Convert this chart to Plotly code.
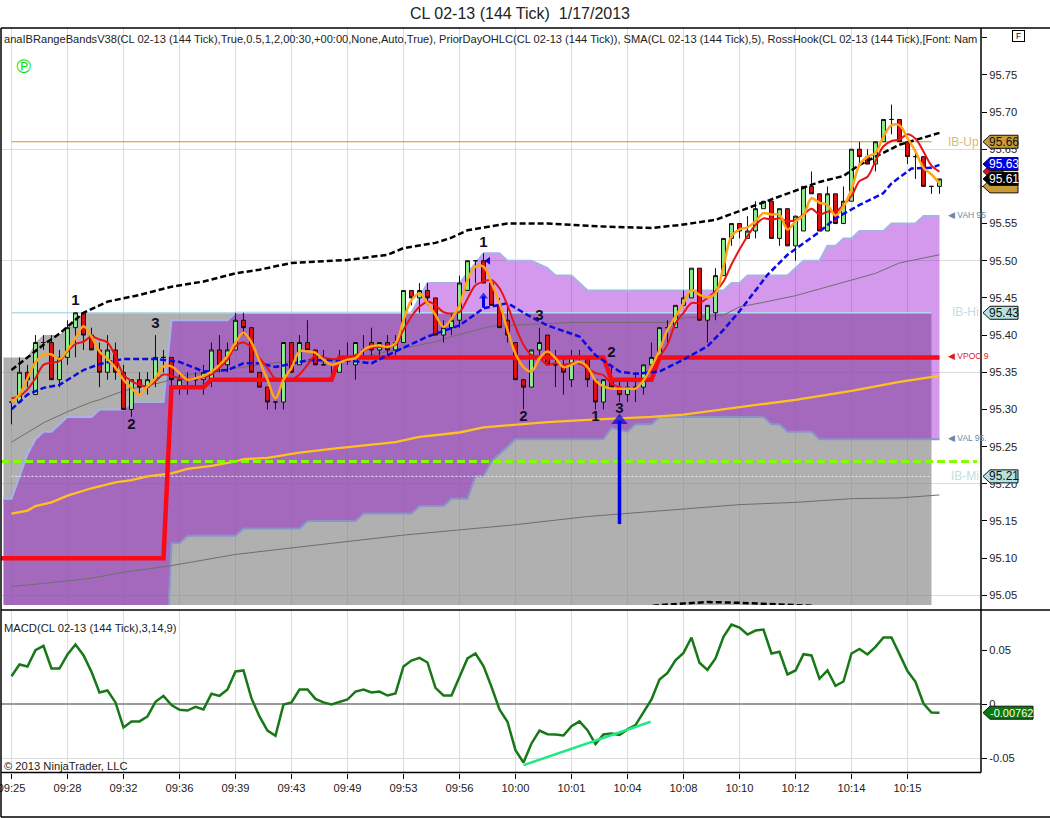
import plotly.graph_objects as go
from plotly.subplots import make_subplots

FONT = "Liberation Sans"

# tick axis
tick_pos = [0, 7, 14, 21, 28, 35, 42, 49, 56, 63, 70, 77, 84, 91, 98, 105, 112]
tick_labels = ["09:25", "09:28", "09:32", "09:36", "09:39", "09:43", "09:49", "09:53", "09:56",
               "10:00", "10:01", "10:04", "10:08", "10:10", "10:12", "10:14", "10:15"]

# candles, one value per bar
bar_open = [95.31, 95.31, 95.35, 95.32, 95.39, 95.39, 95.34, 95.37, 95.41, 95.43,
            95.40, 95.38, 95.35, 95.38, 95.35, 95.30, 95.34, 95.33, 95.34, 95.37,
            95.37, 95.33, 95.34, 95.34, 95.34, 95.34, 95.38, 95.36, 95.38, 95.42,
            95.41, 95.35, 95.33, 95.31, 95.31, 95.39, 95.36, 95.39, 95.38, 95.36,
            95.36, 95.35, 95.37, 95.36, 95.38, 95.39, 95.38, 95.39, 95.38, 95.39,
            95.46, 95.45, 95.46, 95.45, 95.40, 95.41, 95.42, 95.46, 95.50, 95.50,
            95.47, 95.44, 95.42, 95.39, 95.34, 95.33, 95.38, 95.40, 95.36, 95.36,
            95.34, 95.37, 95.37, 95.34, 95.31, 95.34, 95.33, 95.32, 95.33, 95.33,
            95.36, 95.37, 95.41, 95.41, 95.44, 95.45, 95.49, 95.42, 95.43, 95.48,
            95.53, 95.55, 95.53, 95.54, 95.57, 95.58, 95.53, 95.57, 95.52, 95.54,
            95.60, 95.59, 95.54, 95.59, 95.55, 95.58, 95.65, 95.64, 95.63, 95.66,
            95.69, 95.69, 95.66, 95.64, 95.64, 95.60, 95.60]
bar_high = [95.31, 95.37, 95.36, 95.40, 95.40, 95.40, 95.38, 95.42, 95.43, 95.43,
            95.41, 95.39, 95.40, 95.39, 95.36, 95.34, 95.35, 95.35, 95.40, 95.38,
            95.37, 95.35, 95.35, 95.35, 95.36, 95.39, 95.40, 95.39, 95.43, 95.43,
            95.41, 95.35, 95.33, 95.31, 95.39, 95.39, 95.40, 95.42, 95.38, 95.38,
            95.36, 95.38, 95.39, 95.39, 95.40, 95.41, 95.39, 95.40, 95.40, 95.46,
            95.46, 95.47, 95.47, 95.45, 95.42, 95.43, 95.48, 95.50, 95.50, 95.51,
            95.47, 95.45, 95.44, 95.39, 95.34, 95.38, 95.41, 95.40, 95.38, 95.37,
            95.38, 95.38, 95.37, 95.34, 95.34, 95.36, 95.34, 95.34, 95.35, 95.36,
            95.39, 95.41, 95.42, 95.44, 95.46, 95.49, 95.49, 95.44, 95.49, 95.53,
            95.55, 95.55, 95.56, 95.58, 95.58, 95.58, 95.57, 95.57, 95.56, 95.60,
            95.62, 95.59, 95.60, 95.59, 95.60, 95.65, 95.66, 95.65, 95.66, 95.69,
            95.71, 95.69, 95.66, 95.65, 95.64, 95.60, 95.61]
bar_low = [95.28, 95.31, 95.33, 95.32, 95.38, 95.34, 95.33, 95.36, 95.37, 95.38,
           95.38, 95.33, 95.34, 95.34, 95.30, 95.29, 95.32, 95.32, 95.33, 95.35,
           95.33, 95.32, 95.32, 95.33, 95.32, 95.33, 95.35, 95.35, 95.38, 95.40,
           95.35, 95.33, 95.30, 95.30, 95.30, 95.35, 95.36, 95.38, 95.36, 95.36,
           95.34, 95.35, 95.36, 95.34, 95.37, 95.37, 95.37, 95.37, 95.37, 95.39,
           95.44, 95.43, 95.44, 95.40, 95.39, 95.40, 95.41, 95.46, 95.47, 95.47,
           95.44, 95.41, 95.39, 95.34, 95.30, 95.33, 95.37, 95.36, 95.33, 95.32,
           95.33, 95.36, 95.33, 95.30, 95.30, 95.33, 95.31, 95.31, 95.31, 95.32,
           95.36, 95.37, 95.39, 95.41, 95.44, 95.45, 95.42, 95.39, 95.42, 95.48,
           95.52, 95.53, 95.53, 95.53, 95.57, 95.53, 95.52, 95.52, 95.50, 95.54,
           95.59, 95.54, 95.54, 95.55, 95.55, 95.58, 95.63, 95.63, 95.62, 95.66,
           95.67, 95.66, 95.63, 95.61, 95.60, 95.59, 95.59]
bar_close = [95.31, 95.35, 95.34, 95.39, 95.39, 95.34, 95.37, 95.41, 95.43, 95.40,
             95.38, 95.35, 95.38, 95.35, 95.30, 95.34, 95.33, 95.34, 95.37, 95.37,
             95.34, 95.34, 95.34, 95.34, 95.35, 95.38, 95.36, 95.38, 95.42, 95.41,
             95.35, 95.33, 95.31, 95.31, 95.39, 95.35, 95.39, 95.38, 95.36, 95.36,
             95.36, 95.37, 95.37, 95.39, 95.38, 95.38, 95.39, 95.38, 95.39, 95.46,
             95.45, 95.46, 95.45, 95.40, 95.41, 95.42, 95.47, 95.50, 95.50, 95.47,
             95.44, 95.41, 95.40, 95.34, 95.33, 95.38, 95.39, 95.36, 95.36, 95.35,
             95.37, 95.37, 95.34, 95.31, 95.34, 95.33, 95.32, 95.33, 95.33, 95.36,
             95.37, 95.41, 95.41, 95.44, 95.45, 95.49, 95.42, 95.44, 95.48, 95.53,
             95.55, 95.54, 95.54, 95.57, 95.58, 95.53, 95.57, 95.52, 95.56, 95.60,
             95.59, 95.54, 95.59, 95.55, 95.58, 95.65, 95.64, 95.63, 95.66, 95.69,
             95.69, 95.66, 95.64, 95.64, 95.60, 95.60, 95.61]

# RossHook (red) and SMA 5 (orange)
hook_vals = [95.315, 95.318, 95.327, 95.342, 95.360, 95.363, 95.365, 95.378, 95.388, 95.391,
             95.398, 95.394, 95.390, 95.371, 95.347, 95.338, 95.333, 95.331, 95.338, 95.347,
             95.345, 95.342, 95.340, 95.342, 95.343, 95.347, 95.356, 95.367, 95.385, 95.390,
             95.383, 95.369, 95.356, 95.341, 95.340, 95.340, 95.347, 95.360, 95.373, 95.370,
             95.368, 95.368, 95.367, 95.373, 95.379, 95.383, 95.384, 95.384, 95.387, 95.407,
             95.425, 95.438, 95.445, 95.440, 95.431, 95.429, 95.431, 95.449, 95.467, 95.472,
             95.474, 95.463, 95.440, 95.411, 95.387, 95.373, 95.369, 95.360, 95.362, 95.360,
             95.362, 95.362, 95.355, 95.349, 95.346, 95.335, 95.330, 95.328, 95.328, 95.339,
             95.353, 95.371, 95.387, 95.416, 95.430, 95.443, 95.443, 95.450, 95.459, 95.472,
             95.495, 95.515, 95.533, 95.548, 95.557, 95.555, 95.557, 95.553, 95.555, 95.562,
             95.570, 95.562, 95.566, 95.566, 95.575, 95.587, 95.607, 95.613, 95.634, 95.654,
             95.661, 95.663, 95.670, 95.664, 95.647, 95.628, 95.620]
sma_vals = [95.309, 95.320, 95.342, 95.363, 95.374, 95.374, 95.368, 95.380, 95.396, 95.412,
            95.398, 95.378, 95.368, 95.356, 95.340, 95.329, 95.320, 95.331, 95.342, 95.358,
            95.358, 95.349, 95.340, 95.342, 95.345, 95.351, 95.360, 95.372, 95.390, 95.403,
            95.390, 95.365, 95.340, 95.315, 95.340, 95.356, 95.378, 95.378, 95.376, 95.367,
            95.360, 95.363, 95.367, 95.369, 95.380, 95.385, 95.386, 95.384, 95.389, 95.420,
            95.447, 95.456, 95.443, 95.427, 95.411, 95.422, 95.440, 95.474, 95.492, 95.492,
            95.470, 95.443, 95.407, 95.375, 95.357, 95.351, 95.369, 95.378, 95.369, 95.357,
            95.360, 95.364, 95.357, 95.339, 95.331, 95.328, 95.328, 95.328, 95.328, 95.339,
            95.357, 95.380, 95.407, 95.425, 95.443, 95.461, 95.454, 95.451, 95.456, 95.492,
            95.533, 95.542, 95.545, 95.553, 95.564, 95.562, 95.562, 95.542, 95.553, 95.561,
            95.584, 95.578, 95.575, 95.561, 95.573, 95.596, 95.629, 95.640, 95.645, 95.667,
            95.682, 95.682, 95.665, 95.647, 95.625, 95.616, 95.604]

# blue dashed mid band
blue_x = [0, 2, 4, 6, 9, 11, 14, 18, 21, 24, 27, 29, 31, 33, 37, 42, 45, 48, 52, 56, 59, 62,
          64.5, 67, 71, 73, 76, 78, 81, 84, 87, 89, 91, 94.5, 97, 101, 103, 106, 109, 110, 112.5, 115, 116]
blue_vals = [95.300, 95.320, 95.329, 95.333, 95.353, 95.361, 95.368, 95.368, 95.364, 95.351, 95.353,
             95.362, 95.362, 95.357, 95.366, 95.366, 95.362, 95.378, 95.398, 95.413, 95.436, 95.443,
             95.427, 95.413, 95.398, 95.373, 95.351, 95.348, 95.351, 95.367, 95.385, 95.407, 95.432,
             95.481, 95.508, 95.539, 95.557, 95.575, 95.591, 95.604, 95.624, 95.625, 95.629]

# black dashed upper band, and the lower band where it peeks in at the bottom
upper_x = [0, 4, 6, 9, 12, 16, 20, 24, 28, 31, 35, 42, 47, 49, 53, 55, 57, 60, 62, 67, 74, 80, 83.5,
           88, 92, 96, 101, 104, 106, 111, 116]
upper_vals = [95.353, 95.387, 95.402, 95.430, 95.445, 95.454, 95.465, 95.472, 95.483, 95.488, 95.497,
              95.501, 95.508, 95.517, 95.524, 95.531, 95.541, 95.546, 95.550, 95.550, 95.546, 95.544,
              95.548, 95.555, 95.571, 95.587, 95.606, 95.614, 95.629, 95.656, 95.672]
lower_x = [78, 80, 84, 87, 91, 95, 100, 102]
lower_vals = [95.030, 95.036, 95.039, 95.041, 95.040, 95.038, 95.036, 95.030]

# thin gray lines
ma_high_x = [0, 4, 7, 10, 11, 14, 19, 21, 33, 42, 53, 55, 60, 70, 82, 84, 89, 91, 94, 98, 101, 104, 106, 108, 111, 114, 116]
ma_high_vals = [95.256, 95.282, 95.297, 95.310, 95.313, 95.325, 95.337, 95.345, 95.363, 95.367, 95.391, 95.398,
                95.412, 95.417, 95.417, 95.423, 95.427, 95.438, 95.444, 95.453, 95.462, 95.471, 95.476, 95.483,
                95.497, 95.504, 95.508]
ma_low_x = [0, 4, 10, 14, 20, 24, 28, 36, 42, 49, 56, 63, 72, 80, 84, 91, 98, 105, 111, 116]
ma_low_vals = [95.062, 95.066, 95.073, 95.081, 95.090, 95.098, 95.105, 95.115, 95.122, 95.131, 95.138, 95.145,
               95.156, 95.163, 95.166, 95.172, 95.175, 95.180, 95.181, 95.185]

# gold slow average
slow_x = [0, 2, 3, 5, 7, 10, 13, 15, 17, 20, 22, 25, 28, 29, 32, 36, 40, 44, 48, 51, 56, 59, 63, 67, 72, 76, 80,
          84, 92, 98, 105, 111, 116]
slow_vals = [95.160, 95.164, 95.170, 95.175, 95.184, 95.194, 95.202, 95.205, 95.210, 95.214, 95.220, 95.224, 95.230,
             95.233, 95.235, 95.242, 95.247, 95.252, 95.256, 95.263, 95.269, 95.276, 95.280, 95.283, 95.286, 95.288,
             95.290, 95.293, 95.304, 95.313, 95.325, 95.337, 95.345]

# VPOC step line
vpoc_x = [-1.31, 19, 20, 24, 25, 40, 41, 74, 75, 80, 81, 116]
vpoc_vals = [95.10, 95.10, 95.33, 95.33, 95.34, 95.34, 95.37, 95.37, 95.34, 95.34, 95.37, 95.37]

# initial balance block
ib_x = [-1, 2, 3, 4, 5, 6, 7, 8, 9, 115]
ib_top = [95.37, 95.37, 95.39, 95.40, 95.40, 95.40, 95.41, 95.42, 95.43, 95.43]
ib_high = 95.43
ib_mid = 95.21
ib_up = 95.66
prior_level = 95.23

# value area
vah_x = [-1, 0, 1, 2, 3, 4, 5, 7, 10, 11, 14, 15, 19, 20, 27, 28, 50, 51, 52, 56, 59, 61, 62, 65, 67, 68, 70, 72,
         89, 90, 91, 92, 97, 99, 101, 102, 103, 104, 105, 106, 109, 110, 113, 114, 116]
vah_vals = [95.18, 95.18, 95.21, 95.24, 95.26, 95.27, 95.27, 95.29, 95.29, 95.30, 95.30, 95.31, 95.31, 95.42, 95.42,
            95.43, 95.43, 95.45, 95.47, 95.47, 95.51, 95.51, 95.50, 95.50, 95.49, 95.48, 95.48, 95.46,
            95.46, 95.47, 95.47, 95.48, 95.48, 95.50, 95.50, 95.52, 95.52, 95.53, 95.53, 95.54, 95.54, 95.55,
            95.55, 95.56, 95.56]
val_x = [-1, 19.5, 20, 21, 22, 28, 29, 36, 37, 43, 44, 50, 51, 54, 55, 57, 58, 59, 60, 63, 74, 75, 77, 78, 80, 81, 94,
         95, 96, 97, 100, 101, 116]
val_vals = [95.00, 95.00, 95.12, 95.12, 95.13, 95.13, 95.14, 95.14, 95.15, 95.15, 95.16, 95.16, 95.17, 95.17, 95.18,
            95.18, 95.21, 95.21, 95.23, 95.26, 95.26, 95.275, 95.27, 95.28, 95.28, 95.29, 95.29, 95.28, 95.28, 95.27,
            95.27, 95.26, 95.26]

# swing counts
swing_x = [8, 15, 18, 59, 64, 66, 73, 75, 76]
swing_y = [95.445, 95.279, 95.414, 95.524, 95.289, 95.425, 95.290, 95.375, 95.300]
swing_text = ["1", "2", "3", "1", "2", "3", "1", "2", "3"]

# arrows
long_arrow_x = [76, 76]
long_arrow_y = [95.146, 95.285]
short_arrow_x = [59, 59]
short_arrow_y = [95.437, 95.452]

# MACD panel
macd_vals = [0.0262, 0.0370, 0.0352, 0.0503, 0.0543, 0.0333, 0.0333, 0.0463, 0.0556, 0.0457,
             0.0302, 0.0111, 0.0130, 0.0019, -0.0213, -0.0157, -0.0157, -0.0111, 0.0025, 0.0080,
             -0.0006, -0.0049, -0.0056, -0.0022, -0.0046, 0.0099, 0.0080, 0.0139, 0.0306, 0.0315,
             0.0056, -0.0111, -0.0241, -0.0290, 0.0000, 0.0019, 0.0139, 0.0139, 0.0052, 0.0019,
             0.0000, 0.0025, 0.0046, 0.0120, 0.0139, 0.0111, 0.0120, 0.0083, 0.0102, 0.0352,
             0.0407, 0.0432, 0.0389, 0.0154, 0.0083, 0.0083, 0.0250, 0.0426, 0.0472, 0.0355,
             0.0164, -0.0046, -0.0160, -0.0423, -0.0537, -0.0361, -0.0241, -0.0275, -0.0278, -0.0287,
             -0.0201, -0.0157, -0.0238, -0.0367, -0.0278, -0.0268, -0.0281, -0.0231, -0.0191, -0.0068,
             0.0046, 0.0231, 0.0293, 0.0410, 0.0478, 0.0620, 0.0386, 0.0321, 0.0426, 0.0626,
             0.0741, 0.0713, 0.0648, 0.0685, 0.0694, 0.0472, 0.0488, 0.0278, 0.0315, 0.0466,
             0.0454, 0.0238, 0.0315, 0.0173, 0.0213, 0.0472, 0.0515, 0.0463, 0.0534, 0.0620,
             0.0620, 0.0466, 0.0309, 0.0210, 0.0009, -0.0074, -0.0076]
macd_trend_x = [64, 79.9]
macd_trend_y = [-0.0562, -0.0160]

bars = list(range(len(bar_close)))
W, H = 1050, 818


def px_x(v):
    return v / W


def px_y(v):
    return 1 - v / H


fig = make_subplots(rows=2, cols=1, shared_xaxes=True)

# Filled areas live on the base axis so the candles can sit above them
fig.add_trace(go.Scatter(x=ib_x, y=ib_top, fill="tozeroy", mode="none",
                         fillcolor="rgba(128,128,128,0.62)"), row=1, col=1)
fig.add_trace(go.Scatter(x=vah_x + val_x[::-1], y=vah_vals + val_vals[::-1], fill="toself", mode="none",
                         fillcolor="rgba(148,0,211,0.40)"), row=1, col=1)
fig.add_trace(go.Scatter(x=vah_x, y=vah_vals, mode="lines", line=dict(color="#a4b4e6", width=2)), row=1, col=1)
fig.add_trace(go.Scatter(x=val_x, y=val_vals, mode="lines", line=dict(color="#8a94c8", width=2)), row=1, col=1)
fig.add_trace(go.Scatter(x=[0, 115], y=[ib_high, ib_high], mode="lines",
                         line=dict(color="#b4dcec", width=1.5)), row=1, col=1)
fig.add_trace(go.Scatter(x=[0, 115], y=[ib_mid, ib_mid], mode="lines",
                         line=dict(color="#e8eef2", width=1, dash="2px,2px")), row=1, col=1)
fig.add_trace(go.Scatter(x=[0, 115], y=[ib_up, ib_up], mode="lines",
                         line=dict(color="#c89820", width=1.2)), row=1, col=1)
fig.add_trace(go.Scatter(x=ma_high_x, y=ma_high_vals, mode="lines", line=dict(color="#6e6e6e", width=1)), row=1, col=1)
fig.add_trace(go.Scatter(x=ma_low_x, y=ma_low_vals, mode="lines", line=dict(color="#6e6e6e", width=1)), row=1, col=1)

# Everything on top goes on an overlay axis
over = dict(xaxis="x", yaxis="y3")
fig.add_trace(go.Candlestick(x=bars, open=bar_open, high=bar_high, low=bar_low, close=bar_close,
                             increasing=dict(fillcolor="#90ee90", line=dict(color="#101010", width=1)),
                             decreasing=dict(fillcolor="#e01010", line=dict(color="#101010", width=1)),
                             **over))
fig.add_trace(go.Scatter(x=slow_x, y=slow_vals, mode="lines", line=dict(color="#ffc020", width=2.3), **over))
fig.add_trace(go.Scatter(x=[-1.31, 120.7], y=[prior_level, prior_level], mode="lines",
                         line=dict(color="#7fff00", width=3, dash="8px,4px"), **over))
fig.add_trace(go.Scatter(x=vpoc_x, y=vpoc_vals, mode="lines", line=dict(color="#fa0a14", width=4.5), **over))
fig.add_trace(go.Scatter(x=upper_x, y=upper_vals, mode="lines",
                         line=dict(color="#000000", width=2.5, dash="6px,3px"), **over))
fig.add_trace(go.Scatter(x=lower_x, y=lower_vals, mode="lines",
                         line=dict(color="#000000", width=2.5, dash="6px,3px"), **over))
fig.add_trace(go.Scatter(x=blue_x, y=blue_vals, mode="lines",
                         line=dict(color="#0a0ae0", width=2.5, dash="6px,3px"), **over))
fig.add_trace(go.Scatter(x=bars, y=hook_vals, mode="lines",
                         line=dict(color="#e81414", width=2, shape="spline"), **over))
fig.add_trace(go.Scatter(x=bars, y=sma_vals, mode="lines",
                         line=dict(color="#ffa516", width=2.5, shape="spline"), **over))
fig.add_trace(go.Scatter(x=swing_x, y=swing_y, mode="text", text=swing_text,
                         textfont=dict(family=FONT, size=15, color="#101028", weight="bold"), **over))
fig.add_trace(go.Scatter(x=long_arrow_x, y=long_arrow_y, mode="lines+markers",
                         line=dict(color="#0000e6", width=3.5),
                         marker=dict(symbol=["circle", "triangle-up"], size=[1, 14], color="#0000e6",
                                     line=dict(width=0)), **over))
fig.add_trace(go.Scatter(x=short_arrow_x, y=short_arrow_y, mode="lines+markers",
                         line=dict(color="#0000e6", width=3),
                         marker=dict(symbol=["circle", "triangle-up"], size=[1, 8], color="#0000e6",
                                     line=dict(width=0)), **over))
fig.add_trace(go.Scatter(x=[59.6], y=[95.50], mode="markers",
                         marker=dict(symbol="triangle-left", size=7, color="#0000e6", line=dict(width=0)), **over))

# MACD
fig.add_trace(go.Scatter(x=bars, y=macd_vals, mode="lines", line=dict(color="#187818", width=2.5)), row=2, col=1)
fig.add_trace(go.Scatter(x=macd_trend_x, y=macd_trend_y, mode="lines", line=dict(color="#20e884", width=2.5)), row=2, col=1)

fig.update_xaxes(domain=[px_x(1), px_x(981)], range=[-1.31, 121.19], tickvals=tick_pos, ticktext=tick_labels,
                 showgrid=True, gridcolor="#dcdcdc", gridwidth=1, zeroline=False, rangeslider_visible=False,
                 showline=False, ticklabeloverflow="allow")
fig.update_xaxes(ticks="", showticklabels=False, row=1, col=1)
fig.update_xaxes(ticks="outside", ticklen=5, tickcolor="#000000", tickfont=dict(family=FONT, size=11.2, color="#222222"),
                 row=2, col=1)

price_ticks = [95.05, 95.10, 95.15, 95.20, 95.25, 95.30, 95.35, 95.40, 95.45, 95.50, 95.55, 95.60, 95.65, 95.70, 95.75, 95.80]
price_labels = ["95.05", "95.10", "95.15", "95.20", "95.25", "95.30", "95.35", "95.40", "95.45", "95.50",
                "95.55", "95.60", "95.65", "95.70", "95.75", ""]
fig.update_yaxes(side="right", domain=[px_y(605), px_y(28)], range=[95.037, 95.813], tickvals=price_ticks,
                 ticktext=price_labels, ticks="outside", ticklen=5, tickcolor="#000000", showgrid=False,
                 zeroline=False, tickfont=dict(family=FONT, size=11.2, color="#222222"),
                 minor=dict(tickvals=[95.05, 95.20, 95.35, 95.50, 95.65], showgrid=True, gridcolor="#dcdcdc", ticks=""),
                 row=1, col=1)
fig.update_yaxes(side="right", domain=[px_y(772.5), px_y(610)], range=[-0.0630, 0.0875], tickvals=[-0.05, 0, 0.05],
                 ticktext=["-0.05", "0", "0.05"], ticks="outside", ticklen=5, tickcolor="#000000", showgrid=False,
                 zeroline=True, zerolinecolor="#9a9a9a", zerolinewidth=1.5,
                 tickfont=dict(family=FONT, size=11.2, color="#222222"),
                 minor=dict(tickvals=[-0.05], showgrid=True, gridcolor="#dcdcdc", ticks=""),
                 row=2, col=1)

shapes = []
# frame lines
for x0, y0, x1, y1 in [(1, 28, 1050, 28), (1, 28, 1, 817), (981, 28, 981, 772.5), (1, 610, 1050, 610),
                       (1, 772.5, 981, 772.5), (1, 817, 1050, 817)]:
    shapes.append(dict(type="line", xref="paper", yref="paper", x0=px_x(x0), x1=px_x(x1), y0=px_y(y0), y1=px_y(y1),
                       line=dict(color="#000000", width=1.5)))


annotations = []


def add_text(x, y, text, size=11.2, color="#222222", anchor="left", family=FONT, yref="paper", **kw):
    annotations.append(dict(x=px_x(x), y=(px_y(y) if yref == "paper" else y), xref="paper", yref=yref, text=text,
                            showarrow=False, xanchor=anchor, yanchor="middle",
                            font=dict(family=family, size=size, color=color), **kw))


def add_tag(value, yref, width, fill, text="", text_color="#111111", size=12):
    path = f"M 0 0 L 7 6.5 L {width} 6.5 L {width} -6.5 L 7 -6.5 Z"
    shapes.append(dict(type="path", xref="paper", yref=yref, xsizemode="pixel", ysizemode="pixel",
                       xanchor=px_x(983), yanchor=value, path=path, fillcolor=fill,
                       line=dict(color="#111111", width=1)))
    if text:
        add_text(983 + (width + 7) / 2, value, text, size=size, color=text_color, anchor="center", yref=yref)


add_tag(95.60, "y", 35, "#c89a38")
add_tag(95.62, "y", 20, "#e01010")
add_tag(95.66, "y", 35, "#c89a38", "95.66")
add_tag(95.63, "y", 35, "#0000e6", "95.63", "#ffffff")
add_tag(95.61, "y", 35, "#000000", "95.61", "#ffffff")
add_tag(95.43, "y", 35, "#b4e2e2", "95.43")
add_tag(95.21, "y", 35, "#b4e2e2", "95.21")
add_tag(-0.00762, "y2", 50, "#0a780a", "-0.00762", "#ffffff", size=11)

add_text(2, 39, "anaIBRangeBandsV38(CL 02-13 (144 Tick),True,0.5,1,2,00:30,+00:00,None,Auto,True), "
                "PriorDayOHLC(CL 02-13 (144 Tick)), SMA(CL 02-13 (144 Tick),5), "
                "RossHook(CL 02-13 (144 Tick),[Font: Nam", size=11.1)
add_text(23, 66, "℗", size=19, color="#10e010", anchor="center", family="DejaVu Sans")
add_text(2, 628, "MACD(CL 02-13 (144 Tick),3,14,9)", size=11.2)
add_text(2, 766, "© 2013 NinjaTrader, LLC", size=11.2)
add_text(981, 142, "IB-Up", size=12, color="#dcb878", anchor="right")
add_text(981, 312, "IB-Hi", size=12, color="#bfe0e4", anchor="right")
add_text(981, 476, "IB-Mi", size=12, color="#bfe0e4", anchor="right")
add_text(946, 215, "◀ VAH 95", size=8.5, color="#6a88a8")
add_text(946, 356, "◀ VPOC 9", size=8.5, color="#e01818")
add_text(946, 438, "◀ VAL 95.", size=8.5, color="#6a88a8")
annotations.append(dict(x=px_x(1018.5), y=px_y(35.5), xref="paper", yref="paper", text="F", showarrow=False,
                        xanchor="center", yanchor="middle", bordercolor="#000000", borderwidth=1, borderpad=1,
                        bgcolor="#ffffff", width=9, height=8, font=dict(family=FONT, size=8.5, color="#111111")))

fig.update_layout(
    yaxis3=dict(overlaying="y", anchor="x", side="right", range=[95.037, 95.813], visible=False, showgrid=False,
                domain=[px_y(605), px_y(28)]),
    width=W, height=H, margin=dict(l=0, r=0, t=0, b=0, pad=0, autoexpand=False), autosize=False, showlegend=False,
    paper_bgcolor="#ffffff", plot_bgcolor="#ffffff", boxgap=0.3, hovermode=False,
    title=dict(text="CL 02-13 (144 Tick)  1/17/2013", x=520 / W, xanchor="center", y=px_y(13), yanchor="middle",
               font=dict(family=FONT, size=16, color="#222222")),
    shapes=shapes, annotations=annotations,
)

# the page's default body margin would push the fixed-size chart off by 8px
fig.write_html("out.html", post_script="document.body.style.margin='0';", config={"displayModeBar": False})
